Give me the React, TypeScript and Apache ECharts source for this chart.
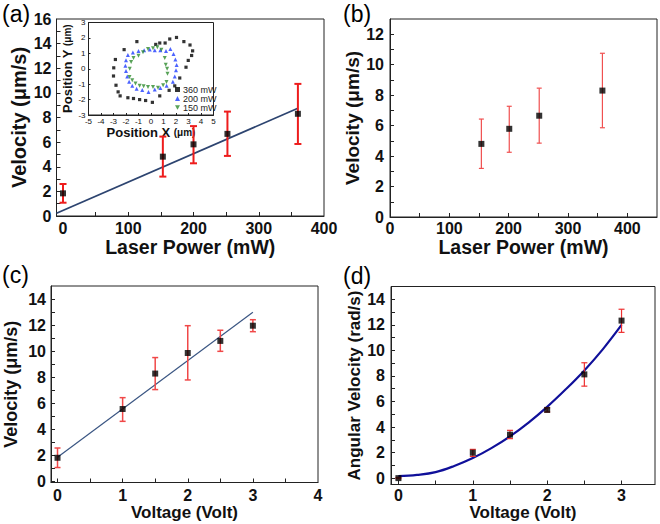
import React, { useEffect, useRef } from 'react';
import * as echarts from 'echarts';

// ---------- Panel (a) ----------
const powerA = [0, 153, 200, 252, 360];
const velA = [1.84, 4.82, 5.82, 6.67, 8.3];
const velALow = [1.08, 3.2, 4.28, 4.88, 5.85];
const velAHigh = [2.6, 6.45, 7.3, 8.48, 10.73];
const fitAX = [-10, 360];
const fitAY = [0.22, 8.75];

// ---------- Inset of (a) ----------
const insetBlackX = [-1.13, -2.15, -2.85, -2.98, -3.0, -2.8, -2.63, -2.47, -1.85, -1.4, -0.91, -0.43, 0.11, 0.7, 1.45, 1.9, 2.3, 2.8, 2.98, 3.25, 3.33, 3.12, 2.63, 2.04, 1.5, 1.13, 0.7, 0.38];
const insetBlackY = [1.76, 1.24, 0.6, 0.06, -0.47, -1.07, -1.5, -1.76, -1.88, -1.93, -2.0, -2.06, -2.18, -1.76, -1.4, -1.11, -0.6, 0.1, 0.54, 0.86, 1.16, 1.54, 1.76, 2.03, 1.93, 1.67, 1.67, 1.58];
const insetBlueX = [-1.85, -2.0, -2.05, -2.0, -1.9, -1.75, -1.5, -1.15, -0.7, -0.2, 0.3, 0.75, 1.25, 1.75, 1.9, 2.0, 2.05, 1.95, 1.8, 1.55, 1.2, 0.75, 0.3, -0.1, -0.55, -1.0, -1.45];
const insetBlueY = [0.9, 0.55, 0.2, -0.15, -0.5, -0.85, -1.1, -1.3, -1.38, -1.5, -1.35, -1.25, -1.1, -0.85, -0.5, -0.1, 0.25, 0.6, 0.95, 1.28, 1.15, 1.2, 1.2, 1.25, 1.2, 1.15, 1.05];
const insetGreenX = [-0.24, 0.16, 0.51, 0.83, 1.1, 1.18, 1.29, 1.32, 1.24, 0.97, 0.56, 0.16, -0.24, -0.59, -0.91, -1.24, -1.5, -1.72, -1.7, -1.59, -1.4, -1.0, -0.64];
const insetGreenY = [1.28, 1.33, 1.39, 1.24, 0.69, 0.26, 0.0, -0.32, -0.86, -1.07, -1.24, -1.18, -1.18, -1.14, -1.11, -0.96, -0.75, -0.53, 0.0, 0.43, 0.69, 0.84, 1.07];
const insetLegend = ['360 mW', '200 mW', '150 mW'];

// ---------- Panel (b) ----------
const powerB = [154, 201, 251.5, 358];
const velB = [4.8, 5.79, 6.65, 8.3];
const velBLow = [3.19, 4.25, 4.85, 5.86];
const velBHigh = [6.43, 7.27, 8.46, 10.75];

// ---------- Panel (c) ----------
const voltC = [0, 1, 1.5, 2, 2.5, 3];
const velC = [1.8, 5.55, 8.27, 9.85, 10.78, 11.95];
const velCLow = [1.05, 4.6, 7.04, 7.78, 9.98, 11.49];
const velCHigh = [2.55, 6.42, 9.5, 11.95, 11.6, 12.41];
const fitCX = [0, 3];
const fitCY = [1.84, 12.98];

// ---------- Panel (d) ----------
const voltD = [0, 1, 1.5, 2, 2.5, 3];
const angD = [0, 1.99, 3.4, 5.34, 8.12, 12.33];
const angDLow = [-0.05, 1.7, 3.09, 5.18, 7.2, 11.41];
const angDHigh = [0.05, 2.25, 3.74, 5.5, 9.03, 13.22];
const fitDX = [0, 0.25, 0.5, 0.75, 1, 1.25, 1.5, 1.75, 2, 2.25, 2.5, 2.75, 3];
const fitDY = [0.15, 0.25, 0.47, 0.95, 1.57, 2.35, 3.27, 4.35, 5.58, 6.95, 8.43, 10.1, 11.99];

// ---------- Tick values ----------
const labelsA_X = [0, 100, 200, 300, 400];
const ticksA_X = [50, 100, 150, 200, 250, 300, 350];
const labelsA_Y = [0, 2, 4, 6, 8, 10, 12, 14, 16];
const ticksA_Y = [1, 2, 3, 4, 5, 6, 7, 8, 9, 10, 11, 12, 13, 14, 15];
const labelsB_X = [0, 100, 200, 300, 400];
const ticksB_X = [50, 100, 150, 200, 250, 300, 350, 400];
const labelsB_Y = [0, 2, 4, 6, 8, 10, 12];
const ticksB_Y = [1, 2, 3, 4, 5, 6, 7, 8, 9, 10, 11, 12];
const labelsC_X = [0, 1, 2, 3, 4];
const ticksC_X = [0, 0.5, 1, 1.5, 2, 2.5, 3, 3.5];
const labelsC_Y = [0, 2, 4, 6, 8, 10, 12, 14];
const ticksC_Y = [0, 1, 2, 3, 4, 5, 6, 7, 8, 9, 10, 11, 12, 13, 14];
const labelsD_X = [0, 1, 2, 3];
const ticksD_X = [0, 0.5, 1, 1.5, 2, 2.5, 3];
const labelsD_Y = [0, 2, 4, 6, 8, 10, 12, 14];
const ticksD_Y = [0, 1, 2, 3, 4, 5, 6, 7, 8, 9, 10, 11, 12, 13, 14];
const labelsIn_X = [-5, -4, -3, -2, -1, 0, 1, 2, 3, 4, 5];
const labelsIn_Y = [-3, -2, -1, 0, 1, 2, 3];

const FONT = '"Liberation Sans", Arial, Helvetica, sans-serif';
const AX = '#222';

const zip = (xs: number[], ys: number[]) => xs.map((x, i) => [x, ys[i]]);
const zip3 = (xs: number[], lo: number[], hi: number[]) => xs.map((x, i) => [x, lo[i], hi[i]]);

function axis(
  dim: 'x' | 'y',
  grid: number,
  min: number,
  max: number,
  labels: number[],
  ticks: number[],
  o: { margin: number; name?: string; nameGap?: number; fontSize?: number; nameSize?: number; tickLen?: number; nameRich?: any; bold?: boolean }
) {
  const a: any = {
    type: 'value',
    gridIndex: grid,
    min,
    max,
    position: dim === 'x' ? 'bottom' : 'left',
    axisLine: { show: true, onZero: false, lineStyle: { color: AX, width: 1 } },
    axisTick: { show: true, inside: true, length: o.tickLen ?? 4, customValues: ticks, lineStyle: { color: AX, width: 1 } },
    axisLabel: {
      show: true,
      customValues: labels,
      margin: o.margin,
      fontSize: o.fontSize ?? 16,
      fontWeight: o.bold === false ? 'normal' : 'bold',
      fontFamily: FONT,
      color: '#111',
    },
    splitLine: { show: false },
  };
  if (o.name) {
    a.name = o.name;
    a.nameLocation = 'middle';
    a.nameGap = o.nameGap;
    a.nameTextStyle = {
      fontSize: o.nameSize ?? 17,
      fontWeight: 'bold',
      fontFamily: FONT,
      color: '#111',
      rich: o.nameRich,
    };
  }
  return a;
}

function errSeries(ax: number, data: number[][], color: string, lw: number, cap: number) {
  return {
    type: 'custom',
    xAxisIndex: ax,
    yAxisIndex: ax,
    data,
    z: 3,
    encode: { x: 0, y: [1, 2] },
    renderItem: (_p: any, api: any) => {
      const x = api.value(0);
      const a = api.coord([x, api.value(1)]);
      const b = api.coord([x, api.value(2)]);
      const st = { stroke: color, lineWidth: lw };
      return {
        type: 'group',
        children: [
          { type: 'line', shape: { x1: a[0], y1: a[1], x2: b[0], y2: b[1] }, style: st },
          { type: 'line', shape: { x1: a[0] - cap, y1: a[1], x2: a[0] + cap, y2: a[1] }, style: st },
          { type: 'line', shape: { x1: b[0] - cap, y1: b[1], x2: b[0] + cap, y2: b[1] }, style: st },
        ],
      };
    },
  };
}

function markers(ax: number, data: number[][], size = 6) {
  return {
    type: 'scatter',
    xAxisIndex: ax,
    yAxisIndex: ax,
    data,
    symbol: 'rect',
    symbolSize: size,
    itemStyle: { color: '#000' },
    z: 5,
  };
}

const TRI_DOWN = 'path://M0,0L10,0L5,9Z';

export default function App() {
  const ref = useRef<HTMLDivElement>(null);
  useEffect(() => {
    document.body.style.margin = '0';
    if (!ref.current) return;
    const chart = echarts.init(ref.current, undefined, { renderer: 'svg' });

    const grids = [
      { left: 56.5, top: 19, width: 267.5, height: 197 }, // a
      { left: 390, top: 19, width: 267, height: 198 }, // b
      { left: 51, top: 286, width: 267, height: 196.5 }, // c
      { left: 391, top: 286.5, width: 264, height: 198 }, // d
      { left: 88.5, top: 22.5, width: 125, height: 92.5, backgroundColor: '#fff' }, // inset
    ].map((g) => ({ show: true, borderColor: AX, borderWidth: 1, backgroundColor: 'transparent', ...g }));

    const rich = (b: number) => ({
      b: { fontSize: b, fontWeight: 'bold', fontFamily: FONT, color: '#111' },
      s: { fontSize: 10, fontWeight: 'bold', fontFamily: FONT, color: '#111' },
    });

    const xa = [
      axis('x', 0, -10, 400, labelsA_X, ticksA_X, { margin: 4, name: 'Laser Power (mW)', nameGap: 16, nameSize: 19.5 }),
      axis('x', 1, 0, 450, labelsB_X, ticksB_X, { margin: 3, name: 'Laser Power (mW)', nameGap: 16, nameSize: 19.5 }),
      axis('x', 2, -0.1, 4, labelsC_X, ticksC_X, { margin: 5, name: 'Voltage (Volt)', nameGap: 21 }),
      axis('x', 3, -0.1, 3.45, labelsD_X, ticksD_X, { margin: 3, name: 'Voltage (Volt)', nameGap: 15 }),
      axis('x', 4, -5, 5, labelsIn_X, labelsIn_X, {
        margin: 2, fontSize: 8, bold: false, tickLen: 2,
        name: '{b|Position X }{s|(μm)}', nameGap: 10, nameRich: rich(13),
      }),
    ];
    const ya = [
      axis('y', 0, 0, 16, labelsA_Y, ticksA_Y, { margin: 5, name: 'Velocity (μm/s)', nameGap: 28, nameSize: 20 }),
      axis('y', 1, 0, 13, labelsB_Y, ticksB_Y, { margin: 6, name: 'Velocity (μm/s)', nameGap: 28, nameSize: 19 }),
      axis('y', 2, -0.1, 15, labelsC_Y, ticksC_Y, { margin: 5, name: 'Velocity (μm/s)', nameGap: 31, nameSize: 18 }),
      axis('y', 3, -0.5, 15, labelsD_Y, ticksD_Y, { margin: 6, name: 'Angular Velocity (rad/s)', nameGap: 26 }),
      axis('y', 4, -3, 3, labelsIn_Y, labelsIn_Y, {
        margin: 3, fontSize: 8, bold: false, tickLen: 2,
        name: '{b|Position Y }{s|(μm)}', nameGap: 10, nameRich: rich(13),
      }),
    ];

    const series: any[] = [
      // (a)
      { type: 'line', xAxisIndex: 0, yAxisIndex: 0, data: zip(fitAX, fitAY), symbol: 'none', lineStyle: { color: '#2d4470', width: 1.8 }, z: 2 },
      errSeries(0, zip3(powerA, velALow, velAHigh), '#ee1c1c', 2, 3.5),
      markers(0, zip(powerA, velA)),
      // inset
      { type: 'scatter', name: insetLegend[0], xAxisIndex: 4, yAxisIndex: 4, data: zip(insetBlackX, insetBlackY), symbol: 'rect', symbolSize: 3.2, itemStyle: { color: '#000' }, z: 6 },
      { type: 'scatter', name: insetLegend[1], xAxisIndex: 4, yAxisIndex: 4, data: zip(insetBlueX, insetBlueY), symbol: 'triangle', symbolSize: 4, itemStyle: { color: '#1f3cff' }, z: 6 },
      { type: 'scatter', name: insetLegend[2], xAxisIndex: 4, yAxisIndex: 4, data: zip(insetGreenX, insetGreenY), symbol: TRI_DOWN, symbolSize: 4, itemStyle: { color: '#2e8b2e' }, z: 6 },
      // (b)
      errSeries(1, zip3(powerB, velBLow, velBHigh), '#f05050', 1.2, 2.5),
      markers(1, zip(powerB, velB)),
      // (c)
      { type: 'line', xAxisIndex: 2, yAxisIndex: 2, data: zip(fitCX, fitCY), symbol: 'none', lineStyle: { color: '#3b5683', width: 1.2 }, z: 2 },
      errSeries(2, zip3(voltC, velCLow, velCHigh), '#f04848', 1.5, 3),
      markers(2, zip(voltC, velC)),
      // (d)
      { type: 'line', xAxisIndex: 3, yAxisIndex: 3, data: zip(fitDX, fitDY), symbol: 'none', smooth: 0.4, lineStyle: { color: '#10109a', width: 2.2 }, z: 2 },
      errSeries(3, zip3(voltD, angDLow, angDHigh), '#ee3030', 1.2, 3),
      markers(3, zip(voltD, angD)),
    ];

    const panelLabel = (t: string, x: number, y: number) => ({
      type: 'text',
      x,
      y,
      style: { text: t, fontSize: 23, fontFamily: FONT, fill: '#000', verticalAlign: 'top', align: 'left' },
    });

    chart.setOption({
      animation: false,
      backgroundColor: '#fff',
      grid: grids,
      xAxis: xa,
      yAxis: ya,
      legend: {
        data: insetLegend,
        orient: 'vertical',
        left: 175,
        top: 85,
        itemWidth: 5,
        itemHeight: 5,
        itemGap: 0,
        selectedMode: false,
        padding: 0,
        textStyle: { fontSize: 9, fontFamily: FONT, color: '#222', padding: [0, 0, 0, -2], lineHeight: 9 },
      },
      series,
      graphic: [
        panelLabel('(a)', 2, 2),
        panelLabel('(b)', 343, 2),
        panelLabel('(c)', 2, 263),
        panelLabel('(d)', 343, 264),
      ],
    });
    return () => chart.dispose();
  }, []);
  return <div ref={ref} style={{ width: 660, height: 524 }} />;
}
